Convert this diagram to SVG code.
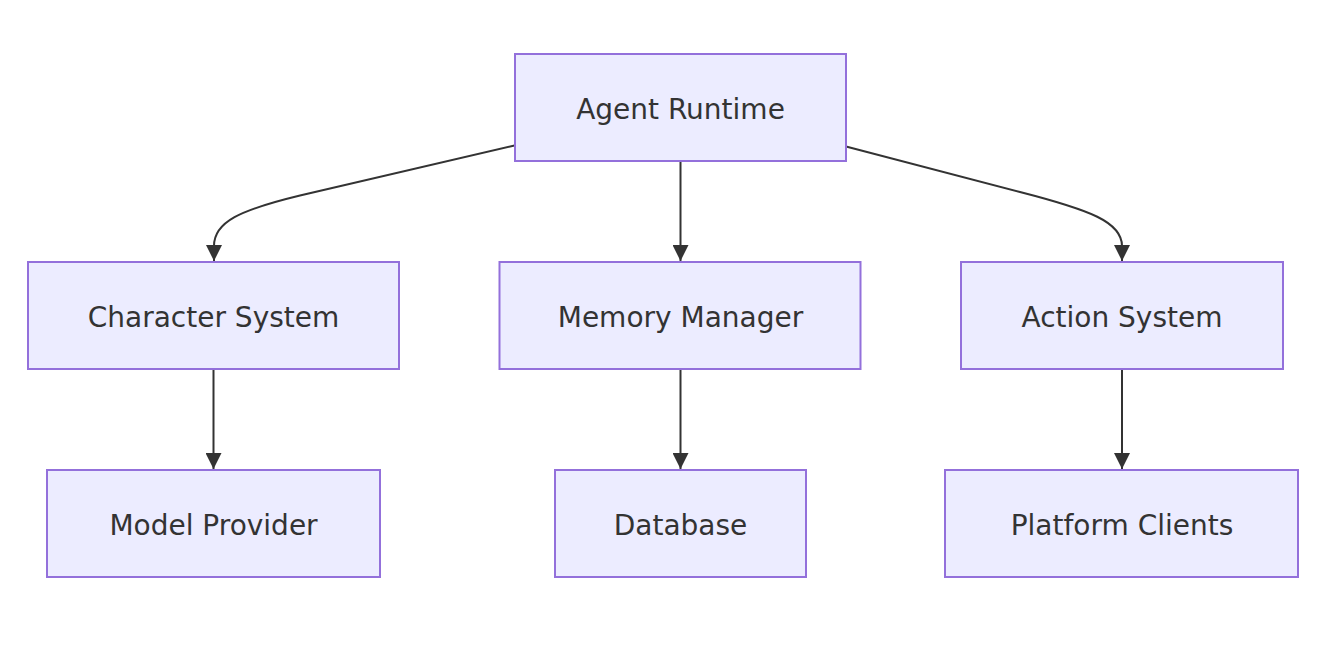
<svg xmlns="http://www.w3.org/2000/svg" width="1324" height="658" viewBox="0 0 1324 658">
<style>
.node rect{fill:#ECECFF;stroke:#9370DB;stroke-width:2}
.node text{font-family:"DejaVu Sans",sans-serif;font-size:28px;fill:#333;text-anchor:middle}
.edge{fill:none;stroke:#333;stroke-width:2}
</style>
<defs>
<marker id="arrow" markerUnits="userSpaceOnUse" markerWidth="16" markerHeight="16" refX="16" refY="8" orient="auto" viewBox="0 0 16 16">
<path d="M0,0 L16,8 L0,16 z" fill="#333"/>
</marker>
</defs>
<rect width="1324" height="658" fill="#fff"/>
<g id="connectors">
<path class="edge" d="M514.5,145.5 L300,195.5 C240,210 214,222 214,246 L214,261" marker-end="url(#arrow)"/>
<path class="edge" d="M680.5,162 L680.5,261" marker-end="url(#arrow)"/>
<path class="edge" d="M846,146.5 L1020,192 C1090,210 1122,222 1122,246 L1122,261" marker-end="url(#arrow)"/>
<path class="edge" d="M213.5,370 L213.5,469" marker-end="url(#arrow)"/>
<path class="edge" d="M680.5,370 L680.5,469" marker-end="url(#arrow)"/>
<path class="edge" d="M1122,370 L1122,469" marker-end="url(#arrow)"/>
</g>
<g id="agent-runtime" class="node"><rect x="515" y="54" width="331" height="107"/><text x="680.5" y="119">Agent Runtime</text></g>
<g id="character-system" class="node"><rect x="28" y="262" width="371" height="107"/><text x="213.5" y="327">Character System</text></g>
<g id="memory-manager" class="node"><rect x="499.5" y="262" width="361" height="107"/><text x="680.5" y="327">Memory Manager</text></g>
<g id="action-system" class="node"><rect x="961" y="262" width="322" height="107"/><text x="1122" y="327">Action System</text></g>
<g id="model-provider" class="node"><rect x="47" y="470" width="333" height="107"/><text x="213.5" y="535">Model Provider</text></g>
<g id="database" class="node"><rect x="555" y="470" width="251" height="107"/><text x="680.5" y="535">Database</text></g>
<g id="platform-clients" class="node"><rect x="945" y="470" width="353" height="107"/><text x="1122" y="535">Platform Clients</text></g>
</svg>
